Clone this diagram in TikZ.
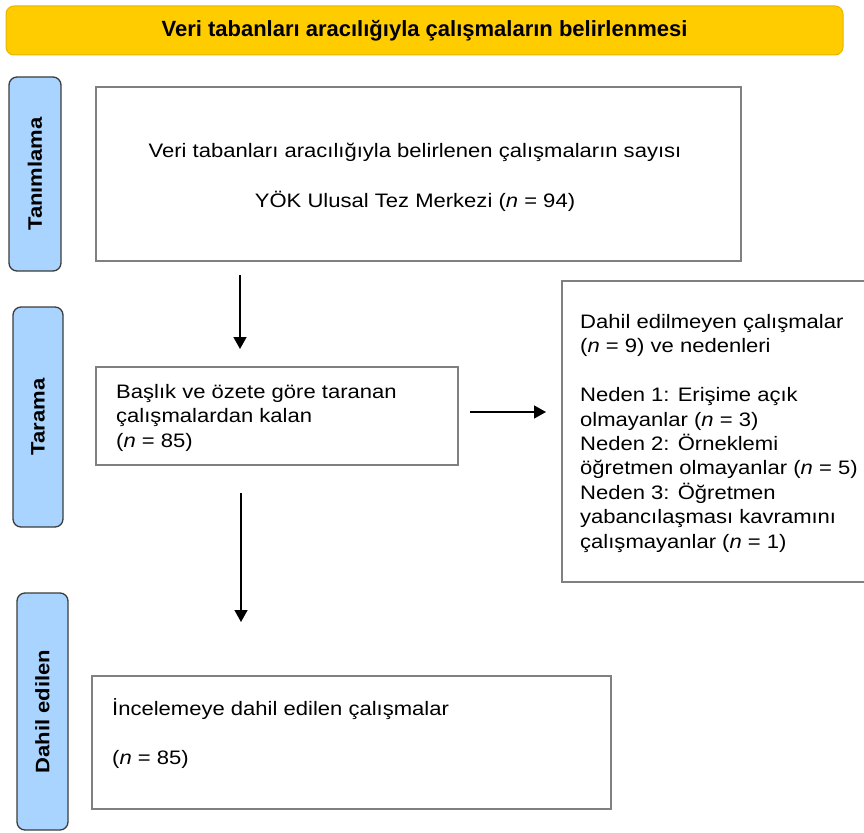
\documentclass[tikz,border=0pt]{standalone}
\usepackage{fontspec}
\setmainfont[FakeStretch=1.13]{Liberation Sans}
\newfontfamily\bannerfont[FakeStretch=1.0]{Liberation Sans}
\usetikzlibrary{arrows.meta}
\definecolor{banneryellow}{HTML}{FFCC00}
\definecolor{bannerborder}{HTML}{E8B400}
\definecolor{barblue}{HTML}{A8D4FF}
\definecolor{bardark}{HTML}{3C3C3C}
\definecolor{boxgray}{HTML}{808080}
\tikzset{
  banner/.style={draw=bannerborder, fill=banneryellow, line width=1pt, rounded corners=8pt},
  phasebar/.style={draw=bardark, fill=barblue, line width=1.3pt, rounded corners=8pt},
  flowbox/.style={draw=boxgray, line width=2pt},
  bodytext/.style={inner sep=0pt, font=\fontsize{19.5}{24.4}\selectfont, align=left},
  phasetext/.style={inner sep=0pt, rotate=90, font=\fontsize{19.5}{22}\selectfont\bfseries},
  arr/.style={-{Triangle[width=13pt,length=12pt]}, line width=1.5pt, black}
}
\begin{document}
\begin{tikzpicture}[x=1pt,y=-1pt]
\useasboundingbox (0,0) rectangle (864,832);
\clip (0,0) rectangle (864,832);
% banner
\node[banner, minimum width=837pt, minimum height=49pt, inner sep=0pt] (ban) at (424.5,30.5)
  {\bannerfont\fontsize{22}{24}\selectfont\bfseries Veri tabanları aracılığıyla çalışmaların belirlenmesi};
% phase bars
\node[phasebar, minimum width=52pt, minimum height=194pt, inner sep=0pt] (p1) at (35,174) {};
\node[phasetext] (p1t) at (p1.center) {Tanımlama};
\node[phasebar, minimum width=50pt, minimum height=220pt, inner sep=0pt] (p2) at (38,417) {};
\node[phasetext] (p2t) at (p2.center) {Tarama};
\node[phasebar, minimum width=51pt, minimum height=237pt, inner sep=0pt] (p3) at (42.5,711.5) {};
\node[phasetext] (p3t) at (p3.center) {Dahil edilen};
% boxes
\node[flowbox, minimum width=645pt, minimum height=174pt, inner sep=0pt] (b1) at (418.5,174) {};
\node[bodytext, anchor=base, align=center, font=\fontsize{19.5}{50}\selectfont] (b1t) at (415,207)
  {Veri tabanları aracılığıyla belirlenen çalışmaların sayısı\\YÖK Ulusal Tez Merkezi (\textit{n} = 94)};
\node[flowbox, minimum width=362pt, minimum height=98pt, inner sep=0pt] (b2) at (277,416) {};
\node[bodytext, anchor=base west] (b2t) at (116,447)
  {Başlık ve özete göre taranan\\çalışmalardan kalan\\(\textit{n} = 85)};
\node[flowbox, minimum width=320pt, minimum height=301pt, inner sep=0pt] (b3) at (722,431.5) {};
\node[bodytext, anchor=base west] (b3t) at (580,548)
  {Dahil edilmeyen çalışmalar\\(\textit{n} = 9) ve nedenleri\\[24.4pt]Neden 1: Erişime açık\\olmayanlar (\textit{n} = 3)\\Neden 2: Örneklemi\\öğretmen olmayanlar (\textit{n} = 5)\\Neden 3: Öğretmen\\yabancılaşması kavramını\\çalışmayanlar (\textit{n} = 1)};
\node[flowbox, minimum width=519pt, minimum height=133pt, inner sep=0pt] (b4) at (351.5,742.5) {};
\node[bodytext, anchor=base west, font=\fontsize{19.5}{49}\selectfont] (b4t) at (112,764)
  {İncelemeye dahil edilen çalışmalar\\(\textit{n} = 85)};
% arrows
\coordinate (a1s) at (240,275);
\coordinate (a1e) at (240,349);
\coordinate (a2s) at (470,412);
\coordinate (a2e) at (546,412);
\coordinate (a3s) at (241,493);
\coordinate (a3e) at (241,622);
\draw[arr] (a1s) -- (a1e);
\draw[arr] (a2s) -- (a2e);
\draw[arr] (a3s) -- (a3e);
\end{tikzpicture}
\end{document}
